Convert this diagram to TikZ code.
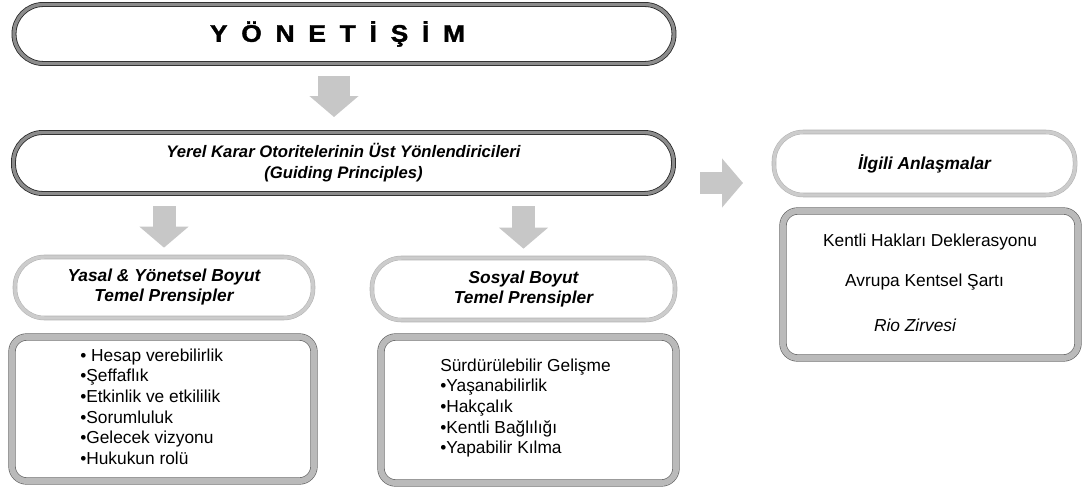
\documentclass[tikz,border=0pt]{standalone}
\usepackage{fontspec}
\setmainfont{Liberation Sans}
\usetikzlibrary{arrows.meta}

\begin{document}
\begin{tikzpicture}[x=0.75pt, y=-0.75pt, font=\fontsize{13}{15}\selectfont,
    darkbox/.style={draw=black!85, line width=0.6pt, double=black!45, double distance=2.5pt, rounded corners=22pt, outer sep=0pt, align=center},
    lightbox/.style={draw=black!30, line width=0.4pt, double=black!20, double distance=2.6pt, rounded corners=22pt, outer sep=0pt, align=center, font=\fontsize{13}{15}\selectfont\bfseries\itshape},
    listbox/.style={draw=black!60, line width=0.5pt, double=black!27, double distance=4.5pt, rounded corners=11pt, outer sep=0pt},
    listtext/.style={inner sep=0pt, align=left, anchor=west, font=\fontsize{13}{15.5}\selectfont},
    bigarrow/.style={draw=black!22, line width=#1, -{Triangle[width=36pt, length=15.75pt]}}]
    \useasboundingbox (0,0) rectangle (1084,491);

    \node (gov) [darkbox, minimum width=495pt, minimum height=44.25pt, font=\fontsize{18}{20}\selectfont\bfseries\addfontfeature{FakeStretch=1.1,FakeBold=1.5}] at (344,34) {Y\hspace{10.3pt}Ö\hspace{10.3pt}N\hspace{10.3pt}E\hspace{10.3pt}T\hspace{10.3pt}İ\hspace{10.3pt}Ş\hspace{10.3pt}İ\hspace{10.3pt}M\kern9.75pt};
    \node (yerel) [darkbox, minimum width=495pt, minimum height=45.75pt, font=\fontsize{12.5}{15.75}\selectfont\bfseries\itshape] at (343.5,163) {Yerel Karar Otoritelerinin Üst Yönlendiricileri\\(Guiding Principles)};
    \node (ilgili) [lightbox, minimum width=225.75pt, minimum height=47.25pt] at (924.5,163.5) {İlgili Anlaşmalar};

    \node (yasalHead) [lightbox, minimum width=223.5pt, minimum height=45.75pt] at (164,287.5) {Yasal \& Yönetsel Boyut\\Temel Prensipler};
    \node (sosyalHead) [lightbox, minimum width=227.25pt, minimum height=46.5pt] at (523.5,289) {Sosyal Boyut\\Temel Prensipler};

    \node (yasalBox) [listbox, minimum width=226.5pt, minimum height=108pt] at (163,409) {};
    \node (sosyalBox) [listbox, minimum width=221.25pt, minimum height=109.5pt] at (528.5,410) {};
    \node (anlasmaBox) [listbox, minimum width=221.25pt, minimum height=110.25pt] at (930.5,284.5) {};

    \node (yasalList) [listtext] at (80,406.5) {• Hesap verebilirlik\\•Şeffaflık\\•Etkinlik ve etkililik\\•Sorumluluk\\•Gelecek vizyonu\\•Hukukun rolü};
    \node (sosyalList) [listtext, font=\fontsize{13}{15.4}\selectfont] at (440,408) {Sürdürülebilir Gelişme\\•Yaşanabilirlik\\•Hakçalık\\•Kentli Bağlılığı\\•Yapabilir Kılma};
    \node (kentli) at (930,242) {Kentli Hakları Deklerasyonu};
    \node (avrupa) at (924.5,282) {Avrupa Kentsel Şartı};
    \node (rio) [font=\fontsize{13}{15}\selectfont\itshape] at (915,325) {Rio Zirvesi};

    \draw[bigarrow=24pt, shorten <=9.35pt, shorten >=11.6pt] ([xshift=-7.5pt]gov.south) -- ([xshift=-7.125pt]yerel.north);
    \draw[bigarrow=17.25pt, shorten <=9.4pt, shorten >=7pt] (yerel.south -| yasalHead.north) -- (yasalHead.north);
    \draw[bigarrow=17.25pt, shorten <=9.4pt, shorten >=7pt] (yerel.south -| sosyalHead.north) -- (sosyalHead.north);
    \draw[bigarrow=16.5pt, shorten <=19.9pt, shorten >=23.25pt] ([yshift=-15pt]yerel.east) -- ([yshift=-15pt]yerel.east -| ilgili.west);
\end{tikzpicture}
\end{document}
